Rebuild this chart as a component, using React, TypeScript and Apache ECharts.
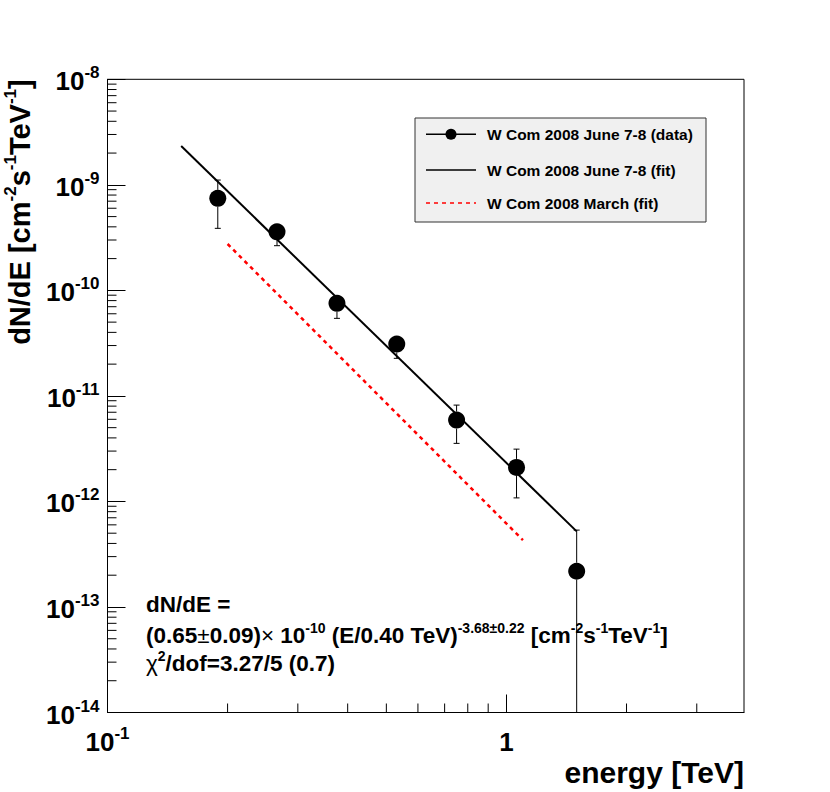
import React, { useEffect, useRef } from 'react';
import * as echarts from 'echarts';

// ---- data ----
const energies = [0.189, 0.266, 0.376, 0.531, 0.75, 1.06, 1.5];
const fluxes = [7.45e-10, 3.59e-10, 7.53e-11, 3.1e-11, 5.9e-12, 2.1e-12, 2.18e-13];
const fluxLow = [3.87e-10, 2.65e-10, 5.43e-11, 2.27e-11, 3.55e-12, 1.08e-12, 1e-14];
const fluxHigh = [1.11e-9, 4.1e-10, 8.8e-11, 3.6e-11, 8.18e-12, 3.13e-12, 5.35e-13];

const fitEnergy = [0.153, 1.5];
const fitFlux = [2.33e-9, 5.2e-13];
const marchEnergy = [0.2, 1.1];
const marchFlux = [2.75e-10, 4.3e-13];

const xRange = [0.1, 3.94];
const yRange = [1e-14, 1e-8];
const xMinorTicks = [0.2, 0.3, 0.4, 0.5, 0.6, 0.7, 0.8, 0.9, 2, 3];
const yMinorMantissas = [2, 3, 4, 5, 6, 7, 8, 9];
const yDecades = [-14, -13, -12, -11, -10, -9];

const legendLabels = [
  'W Com 2008 June 7-8 (data)',
  'W Com 2008 June 7-8 (fit)',
  'W Com 2008 March (fit)',
];

const FONT = '"Liberation Sans", Arial, Helvetica, sans-serif';

function powLabel(v: number): string {
  const e = Math.round(Math.log10(v));
  const p = Math.pow(10, e);
  if (Math.abs(v - p) > 1e-6 * p) return '';
  if (e === 0) return '{b|1}';
  return `{b|10}{s|${e}}`;
}

const labelRich = {
  b: { fontSize: 26, fontWeight: 'bold', fontFamily: FONT, color: '#000', verticalAlign: 'bottom', lineHeight: 30 },
  s: { fontSize: 17, fontWeight: 'bold', fontFamily: FONT, color: '#000', verticalAlign: 'top', lineHeight: 18 },
};

const titleRich = {
  t: { fontSize: 29, fontWeight: 'bold', fontFamily: FONT, color: '#000', verticalAlign: 'bottom', lineHeight: 33 },
  u: { fontSize: 17, fontWeight: 'bold', fontFamily: FONT, color: '#000', verticalAlign: 'top', lineHeight: 18 },
};

const formulaRich = {
  f: { fontSize: 22.5, fontWeight: 'bold', fontFamily: FONT, color: '#000', verticalAlign: 'bottom', lineHeight: 26 },
  r: { fontSize: 22.5, fontWeight: 'normal', fontFamily: FONT, color: '#000', verticalAlign: 'bottom', lineHeight: 26 },
  g: { fontSize: 14, fontWeight: 'bold', fontFamily: FONT, color: '#000', verticalAlign: 'top', lineHeight: 15 },
};

export default function App() {
  const ref = useRef<HTMLDivElement>(null);

  useEffect(() => {
    document.body.style.margin = '0';
    if (!ref.current) return;
    const chart = echarts.init(ref.current, null, { renderer: 'svg' });

    const pointData = energies.map((e, i) => [e, fluxes[i], fluxLow[i], fluxHigh[i]]);
    const yMinor: number[] = [];
    yDecades.forEach((d) => yMinorMantissas.forEach((m) => yMinor.push(m * Math.pow(10, d))));

    const option: any = {
      animation: false,
      backgroundColor: '#fff',
      grid: {
        left: 107.5, top: 79.3, right: 86, bottom: 79.5,
        show: true, borderColor: '#000', borderWidth: 1, backgroundColor: 'transparent',
      },
      xAxis: {
        type: 'log', logBase: 10, min: xRange[0], max: xRange[1],
        splitLine: { show: false },
        axisLine: { show: true, onZero: false, lineStyle: { color: '#000', width: 1 } },
        axisTick: { show: true, inside: true, length: 18, lineStyle: { color: '#000', width: 1 } },
        minorTick: { show: false },
        axisLabel: { formatter: powLabel, margin: 12, rich: labelRich, showMaxLabel: false },
        name: 'energy [TeV]',
        nameLocation: 'end',
        nameGap: 0,
        nameTextStyle: {
          fontSize: 30, fontWeight: 'bold', fontFamily: FONT, color: '#000',
          align: 'right', verticalAlign: 'top', padding: [45, 0, 0, 0],
        },
      },
      yAxis: {
        type: 'log', logBase: 10, min: yRange[0], max: yRange[1], splitNumber: 6,
        splitLine: { show: false },
        axisLine: { show: true, onZero: false, lineStyle: { color: '#000', width: 1 } },
        axisTick: { show: true, inside: true, length: 18, lineStyle: { color: '#000', width: 1 } },
        minorTick: { show: false },
        axisLabel: { formatter: powLabel, margin: 8, rich: labelRich },
        name: '{t|dN/dE [cm}{u|-2}{t|s}{u|-1}{t|TeV}{u|-1}{t|]}',
        nameLocation: 'end',
        nameRotate: 90,
        nameGap: 0,
        nameTextStyle: {
          align: 'right', verticalAlign: 'bottom', padding: [0, 0, 73, 0], rich: titleRich,
        },
      },
      series: [
        {
          type: 'custom', name: 'xminor', silent: true, z: 3,
          data: xMinorTicks.map((v) => [v, yRange[0]]),
          encode: { x: 0, y: 1 },
          renderItem: (p: any, api: any) => {
            const c = api.coord([api.value(0), api.value(1)]);
            return { type: 'line', shape: { x1: c[0], y1: c[1], x2: c[0], y2: c[1] - 9 }, style: { stroke: '#000', lineWidth: 1 } };
          },
        },
        {
          type: 'custom', name: 'yminor', silent: true, z: 3,
          data: yMinor.map((v) => [xRange[0], v]),
          encode: { x: 0, y: 1 },
          renderItem: (p: any, api: any) => {
            const c = api.coord([api.value(0), api.value(1)]);
            return { type: 'line', shape: { x1: c[0], y1: c[1], x2: c[0] + 9, y2: c[1] }, style: { stroke: '#000', lineWidth: 1 } };
          },
        },
        {
          type: 'line', name: legendLabels[1], data: fitEnergy.map((e, i) => [e, fitFlux[i]]),
          showSymbol: false, symbol: 'none', lineStyle: { color: '#000', width: 2 }, z: 4,
        },
        {
          type: 'line', name: legendLabels[2], data: marchEnergy.map((e, i) => [e, marchFlux[i]]),
          showSymbol: false, symbol: 'none', lineStyle: { color: '#ff0000', width: 2.5, type: [4, 4] }, z: 4,
        },
        {
          type: 'custom', name: 'errors', silent: true, z: 5, clip: true,
          data: pointData,
          encode: { x: 0, y: 1 },
          renderItem: (p: any, api: any) => {
            const x = api.value(0);
            const c = api.coord([x, api.value(1)]);
            const lo = api.coord([x, api.value(2)]);
            const hi = api.coord([x, api.value(3)]);
            const r = 8.5, cap = 3;
            const st = { stroke: '#000', lineWidth: 1 };
            const ch: any[] = [];
            if (hi[1] < c[1] - r) {
              ch.push({ type: 'line', shape: { x1: c[0], y1: c[1] - r, x2: c[0], y2: hi[1] }, style: st });
              ch.push({ type: 'line', shape: { x1: c[0] - cap, y1: hi[1], x2: c[0] + cap, y2: hi[1] }, style: st });
            }
            if (lo[1] > c[1] + r) {
              ch.push({ type: 'line', shape: { x1: c[0], y1: c[1] + r, x2: c[0], y2: lo[1] }, style: st });
              ch.push({ type: 'line', shape: { x1: c[0] - cap, y1: lo[1], x2: c[0] + cap, y2: lo[1] }, style: st });
            }
            return { type: 'group', children: ch };
          },
        },
        {
          type: 'scatter', name: legendLabels[0], data: pointData.map((d) => [d[0], d[1]]),
          symbol: 'circle', symbolSize: 17, itemStyle: { color: '#000', opacity: 1 }, z: 6,
        },
      ],
      graphic: [
        { type: 'rect', silent: true, shape: { x: 415, y: 118, width: 291, height: 104 }, style: { fill: '#f0f0f0', stroke: '#333', lineWidth: 1 } },
        { type: 'line', silent: true, shape: { x1: 426, y1: 134.3, x2: 476, y2: 134.3 }, style: { stroke: '#000', lineWidth: 1.5 } },
        { type: 'circle', silent: true, shape: { cx: 451, cy: 134.3, r: 5.5 }, style: { fill: '#000' } },
        { type: 'line', silent: true, shape: { x1: 426, y1: 170, x2: 476, y2: 170 }, style: { stroke: '#000', lineWidth: 1.5 } },
        { type: 'line', silent: true, shape: { x1: 426, y1: 203, x2: 476, y2: 203 }, style: { stroke: '#ff0000', lineWidth: 1.5, lineDash: [4, 4] } },
        ...legendLabels.map((t, i) => ({
          type: 'text', silent: true, x: 487, y: [134.3, 170, 203][i],
          style: { text: t, fill: '#000', font: `bold 15.5px ${FONT}`, verticalAlign: 'middle' },
        })),
        {
          type: 'text', silent: true, x: 146, y: 603,
          style: { text: '{f|dN/dE =}', rich: formulaRich, verticalAlign: 'middle' },
        },
        {
          type: 'text', silent: true, x: 146, y: 634,
          style: {
            text: '{f|(0.65}{r|±}{f|0.09)}{r|×}{f| 10}{g|-10}{f| (E/0.40 TeV)}{g|-3.68±0.22}{f| [cm}{g|-2}{f|s}{g|-1}{f|TeV}{g|-1}{f|]}',
            rich: formulaRich, verticalAlign: 'middle',
          },
        },
        {
          type: 'text', silent: true, x: 146, y: 662,
          style: { text: '{r|χ}{g|2}{f|/dof=3.27/5 (0.7)}', rich: formulaRich, verticalAlign: 'middle' },
        },
      ],
    };

    chart.setOption(option);
    return () => chart.dispose();
  }, []);

  return <div ref={ref} style={{ width: 830, height: 792 }} />;
}
